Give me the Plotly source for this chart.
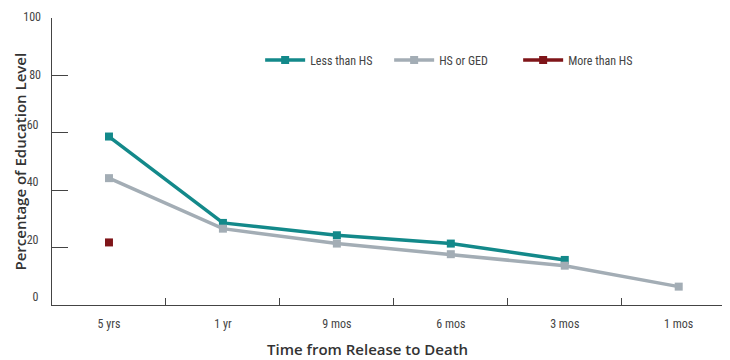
import plotly.graph_objects as go

categories = ["5 yrs", "1 yr", "9 mos", "6 mos", "3 mos", "1 mos"]
less_than_hs = [58.7, 28.6, 24.3, 21.4, 15.7, None]
hs_or_ged = [44.2, 26.6, 21.4, 17.7, 13.7, 6.4]
more_than_hs = [21.8, None, None, None, None, None]
y_ticks_low = [0, 20, 40, 60]
y_ticks_high = [80, 100]

tick_font = dict(family="Liberation Sans Narrow, Roboto Condensed, Liberation Sans", size=12, color="#444")
legend_font = dict(family="Liberation Sans Narrow, Roboto Condensed, Liberation Sans", size=12, color="#444")
ytitle_font = dict(family="Open Sans, Noto Sans", size=15, color="#333", weight=600)
xtitle_font = dict(family="Open Sans, Noto Sans", size=15, color="#333", weight=600)

fig = go.Figure()
series = [
    ("Less than HS", less_than_hs, "#13898a", "y"),
    ("HS or GED", hs_or_ged, "#a3adb5", "y"),
    ("More than HS", more_than_hs, "#7f1519", "y2"),  # y2 shares the same 0-100 scale
]
for name, vals, col, yax in series:
    fig.add_trace(go.Scatter(
        x=categories, y=vals, name=name, mode="lines+markers", yaxis=yax,
        line=dict(color=col, width=3.5),
        marker=dict(symbol="square", size=8, color=col),
        connectgaps=False,
    ))

yaxis_common = dict(range=[0, 100], ticks="inside", ticklen=16, tickcolor="#444",
                    showgrid=False, zeroline=False, tickfont=tick_font, automargin=False,
                    ticklabelstandoff=10, ticklabeloverflow="allow")

# page body has an 8px default margin; figure is sized to fit the window
fig.update_layout(
    width=722, height=352,
    margin=dict(l=44, r=0, t=10, b=54.5, autoexpand=False),
    plot_bgcolor="white", paper_bgcolor="white",
    showlegend=True,
    legend=dict(orientation="h", x=0.307, xanchor="left", y=0.854, yanchor="middle",
                font=legend_font, itemwidth=40, bgcolor="rgba(0,0,0,0)",
                tracegroupgap=0, entrywidth=74),
    xaxis=dict(type="category", range=[-0.5, 5.45], showline=True, linecolor="#444",
               linewidth=1.2, ticks="inside", tickson="boundaries", ticklen=7,
               tickcolor="#444", showgrid=False, tickfont=tick_font, zeroline=False,
               automargin=False, ticklabelstandoff=7),
    yaxis=dict(tickvals=y_ticks_low, showline=True, linecolor="#444", linewidth=1.2,
               ticklabelshift=-8, **yaxis_common),
    yaxis2=dict(tickvals=y_ticks_high, overlaying="y", side="left", anchor="x",
                showline=False, ticklabelshift=-1, **yaxis_common),
    annotations=[
        dict(text="Time from Release to Death", xref="paper", yref="paper",
             x=0.466, y=-0.155, xanchor="center", yanchor="middle",
             showarrow=False, font=xtitle_font),
        dict(text="Percentage of Education Level", xref="paper", yref="paper",
             x=(11 - 44) / 678, y=0.5, xanchor="center", yanchor="middle", textangle=-90,
             showarrow=False, font=ytitle_font),
    ],
)

fig.write_html("out.html")
